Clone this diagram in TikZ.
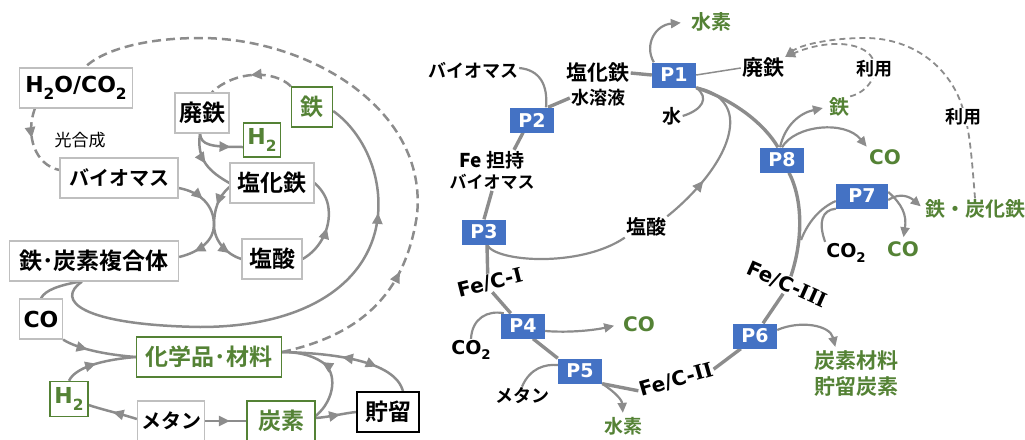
\documentclass[tikz,border=0pt]{standalone}
\usepackage{fontspec}
\usepackage{graphicx}
\setmainfont{DejaVu Sans}
\newfontfamily\jp{Noto Sans CJK JP}[UprightFont=* Bold]
\newfontfamily\jpr{Noto Sans CJK JP}
\newfontfamily\sr{DejaVu Serif}
\usetikzlibrary{arrows.meta,decorations.markings}
\definecolor{lg}{RGB}{140,140,140}
\definecolor{gr}{RGB}{84,130,53}
\definecolor{bl}{RGB}{68,114,196}
\definecolor{bx}{RGB}{191,191,191}
\newcommand{\sbs}[1]{\raisebox{-0.3em}{\scalebox{0.7}{#1}}}
\newcommand{\fs}[1]{\fontsize{#1}{#1}\selectfont}
\newcommand{\RI}{{\sr\bfseries I}}
\pgfdeclarelayer{bg}
\pgfsetlayers{bg,main}
\tikzset{
  lbox/.style={draw=bx,line width=1.3pt,fill=white,inner sep=0pt,font=\jp\fs{23}},
  gbox/.style={lbox,draw=gr,text=gr},
  lat/.style={font=\bfseries\fs{22}},
  pbox/.style={fill=bl,text=white,inner sep=0pt,minimum width=44pt,minimum height=25pt,font=\bfseries\fs{19}},
  tx/.style={inner sep=1pt,font=\jp\fs{19}},
  gtx/.style={tx,text=gr},
  ltx/.style={inner sep=1pt,font=\bfseries\fs{20}},
  gltx/.style={ltx,text=gr},
  ln/.style={draw=lg,line width=2.5pt},
  lnr/.style={draw=lg,line width=2.2pt},
  tk/.style={draw=lg,line width=3.4pt},
  dsh/.style={draw=lg,line width=2.5pt,dash pattern=on 9pt off 5pt},
  dshr/.style={draw=lg,line width=1.8pt,dash pattern=on 6pt off 4pt},
  tip/.style={-{Triangle[length=10pt,width=9pt]}},
  ma/.style={postaction={decorate,decoration={markings,mark=at position #1 with {\arrow{Triangle[length=11pt,width=10pt]}}}}},
  mr/.style={postaction={decorate,decoration={markings,mark=at position #1 with {\arrowreversed{Triangle[length=11pt,width=10pt]}}}}},
}
\begin{document}
\begin{tikzpicture}[x=1pt,y=-1pt]
\useasboundingbox (0,0) rectangle (1025,439);
% ---------------- left diagram nodes
\node[lbox,lat,minimum width=113pt,minimum height=40pt] (h2o) at (76,88) {H\sbs{2}O/CO\sbs{2}};
\node[inner sep=0pt,font=\jpr\fs{17}] (kou) at (80,140) {光合成};
\node[lbox,minimum width=118pt,minimum height=40pt,font=\jp\fs{20}] (bio) at (119,178) {バイオマス};
\node[lbox,minimum width=54pt,minimum height=40pt] (hai) at (202,113) {廃鉄};
\node[gbox,lat,minimum width=37pt,minimum height=34pt] (h2a) at (262,140) {H\sbs{2}};
\node[gbox,minimum width=41pt,minimum height=40pt] (tet) at (312,107) {鉄};
\node[lbox,minimum width=84pt,minimum height=40pt] (enk) at (272,183) {塩化鉄};
\node[lbox,minimum width=169pt,minimum height=40pt] (fec) at (94,261) {鉄･炭素複合体};
\node[lbox,minimum width=60pt,minimum height=40pt] (ens) at (272,259) {塩酸};
\node[lbox,lat,minimum width=43pt,minimum height=40pt] (col) at (41,319) {CO};
\node[gbox,minimum width=145pt,minimum height=40pt] (chem) at (209,357) {化学品･材料};
\node[gbox,lat,minimum width=38pt,minimum height=35pt] (h2b) at (69,399) {H\sbs{2}};
\node[lbox,minimum width=67pt,minimum height=40pt,font=\jp\fs{20}] (met) at (171,421) {メタン};
\node[gbox,minimum width=68pt,minimum height=40pt] (car) at (281,421) {炭素};
\node[lbox,draw=black,minimum width=62pt,minimum height=40pt] (sto) at (388,412) {貯留};
% ---------------- right diagram nodes
\node[pbox] (P1) at (674,75) {P1};
\node[pbox] (P2) at (532,120) {P2};
\node[pbox] (P3) at (484,232) {P3};
\node[pbox] (P4) at (523,326) {P4};
\node[pbox] (P5) at (580,371) {P5};
\node[pbox] (P6) at (755,336) {P6};
\node[pbox,minimum width=52pt] (P7) at (862,196) {P7};
\node[pbox] (P8) at (782,160) {P8};
\node[gtx,font=\jp\fs{20}] (sui1) at (711,22) {水素};
\node[tx,font=\jp\fs{18}] (bio2) at (473,70) {バイオマス};
\node[tx,font=\jp\fs{21}] (enk2) at (598,73) {塩化鉄};
\node[tx,font=\jp\fs{18}] (suiyo) at (598,98) {水溶液};
\node[tx] (mizu) at (672,116) {水};
\node[tx,font=\jp\fs{21}] (hai2) at (763,68) {廃鉄};
\node[tx,font=\jp\fs{18},fill=white] (riyo1) at (874,69) {利用};
\node[gtx,font=\jp\fs{20}] (tet2) at (839,107) {鉄};
\node[tx,font=\jp\fs{18},fill=white] (riyo2) at (963,117) {利用};
\node[gltx] (co1) at (885,157) {CO};
\node[gtx,font=\jp\fs{20}] (fetc) at (975,209) {鉄・炭化鉄};
\node[ltx,font=\bfseries\fs{19}] (co2a) at (846,253) {CO\sbs{2}};
\node[gltx] (co3) at (903,249) {CO};
\node[tx] (fetan) at (492,160) {{\bfseries Fe} 担持};
\node[tx,font=\jp\fs{17}] (bio3) at (492,182) {バイオマス};
\node[tx,font=\jp\fs{20}] (ens2) at (646,227) {塩酸};
\node[ltx,rotate=14] (fec1) at (490,283) {Fe/C-\RI};
\node[gltx] (co4) at (639,324) {CO};
\node[ltx,font=\bfseries\fs{19}] (co2b) at (471,350) {CO\sbs{2}};
\node[tx,font=\jp\fs{18}] (met2) at (522,396) {メタン};
\node[gtx] (sui2) at (623,426) {水素};
\node[ltx,rotate=16] (fec2) at (676,380) {Fe/C-\RI\RI};
\node[ltx,rotate=-24] (fec3) at (787,285) {Fe/C-\RI\RI\RI};
\node[gtx,font=\jp\fs{21}] (tan) at (856,361) {炭素材料};
\node[gtx,font=\jp\fs{21}] (cho) at (856,387) {貯留炭素};
\coordinate (br) at (801,240);
\begin{pgfonlayer}{bg}
% ---------------- left connectors
\path[dsh,ma=0.23] ([yshift=5pt]chem.east) .. controls (360,335) and (405,295) .. (417,215) .. controls (428,110) and (310,38) .. (200,38) .. controls (140,38) and (100,52) .. ([xshift=9pt]h2o.north);
\path[dsh,ma=0.4] ([xshift=16pt]h2o.south west) .. controls (25,135) and (35,165) .. ([yshift=8pt]bio.west);
\path[dsh,ma=0.5] (tet.north west) .. controls (275,70) and (235,70) .. ([xshift=10pt]hai.north);
\path[ln,ma=0.75] ([xshift=-2pt]hai.south) .. controls (201,145) and (210,147) .. ([yshift=-7pt]h2a.west);
\path[ln,ma=0.5] ([xshift=-2pt]hai.south) .. controls (196,160) and (210,172) .. (enk.west);
\path[ln,ma=0.25,ma=0.85] ([yshift=-10pt]bio.east) .. controls (200,192) and (214,205) .. (214,225) .. controls (214,240) and (200,252) .. ([yshift=4pt]fec.east);
\path[ln,ma=0.25,ma=0.85] ([yshift=-4pt]enk.west) .. controls (218,197) and (214,210) .. (214,225) .. controls (214,242) and (228,255) .. (ens.west);
\path[ln,ma=0.45] (ens.east) .. controls (322,248) and (332,225) .. (328,205) .. controls (326,195) and (320,188) .. (enk.east);
\path[ln,ma=0.77] ([xshift=-12pt]fec.south) .. controls (55,300) and (80,325) .. (200,327) .. controls (310,327) and (372,280) .. (378,215) .. controls (382,170) and (360,130) .. ([yshift=-4pt]tet.east);
\path[ln] ([xshift=-14pt]fec.south) .. controls (60,285) and (45,290) .. (col.north);
\path[ln,ma=0.35] (col.south east) .. controls (80,350) and (110,355) .. (chem.west);
\path[ln,ma=0.45] (h2b.north) .. controls (75,368) and (100,360) .. (chem.west);
\path[ln,ma=0.5] ([yshift=2pt]met.west) .. controls (118,413) and (100,409) .. ([yshift=-6pt]h2b.east);
\path[ln,ma=0.6] (met.east) -- (car.west);
\path[ln,ma=0.6] ([yshift=3pt]car.east) .. controls (330,417) and (345,413) .. (sto.west);
\path[ln,ma=0.6] ([yshift=5pt]car.east) .. controls (335,400) and (338,372) .. (322,362) .. controls (310,354) and (295,352) .. ([yshift=5pt]chem.east);
\path[ln,mr=0.45,ma=0.72] ([yshift=5pt]chem.east) .. controls (330,353) and (395,360) .. ([xshift=15pt]sto.north);
% ---------------- right connectors
\path[lnr,tip,shorten >=9pt] ([xshift=2pt]P1.north west) .. controls (644,45) and (655,25) .. (sui1.west);
\path[tk] (enk2.east) -- (P1.west);
\path[draw=lg,line width=1.5pt] (P1.east) -- (hai2.west);
\path[lnr] (mizu.east) .. controls (702,110) and (710,98) .. (P1.south east);
\path[tk] (P1.south east) .. controls (735,100) and (765,125) .. ([xshift=-4pt]P8.north);
\path[lnr,ma=0.3] (ens2.north east) .. controls (700,190) and (733,150) .. (730,118) .. controls (728,100) and (712,90) .. (P1.south east);
\path[lnr] ([xshift=3pt]P3.south) .. controls (495,262) and (580,268) .. (ens2.south west);
\path[lnr] ([yshift=2pt]bio2.east) .. controls (540,70) and (548,85) .. ([xshift=14pt]P2.north);
\path[tk] (suiyo.west) -- ([xshift=16pt]P2.north);
\path[tk] ([xshift=-9pt]P2.south) -- ([xshift=22pt]fetan.north);
\path[tk] (bio3.south) -- (P3.north);
\path[tk] ([xshift=3pt]P3.south) -- (fec1.north);
\path[tk] (fec1.south) -- ([xshift=10pt]P4.north west);
\path[lnr] (co2b.north) .. controls (472,318) and (488,310) .. ([xshift=3pt]P4.north west);
\path[lnr,tip,shorten >=8pt] ([yshift=-5pt]P4.east) .. controls (570,333) and (595,330) .. (co4.west);
\path[tk] ([xshift=10pt]P4.south) -- (P5.north west);
\path[lnr] (met2.north) .. controls (530,368) and (545,364) .. ([yshift=6pt]P5.west);
\path[lnr,tip,shorten >=3pt] (P5.south east) .. controls (615,392) and (622,400) .. (sui2.north);
\path[tk] (P5.south east) -- (fec2.west);
\path[tk] (fec2.east) -- ([xshift=8pt]P6.south west);
\path[tk] ([xshift=8pt]P6.north) -- (fec3.south);
\path[tk] (fec3.north) .. controls (803,240) and (803,200) .. ([xshift=7pt]P8.south);
\path[lnr] (br) .. controls (808,222) and (820,208) .. ([yshift=-5pt]P7.west);
\path[lnr] (co2a.north west) .. controls (818,222) and (822,210) .. (P7.south west);
\path[lnr,tip,shorten >=4pt] ([yshift=-4pt]P7.east) .. controls (900,192) and (910,197) .. (fetc.west);
\path[lnr,tip,shorten >=3pt] ([yshift=4pt]P7.east) .. controls (902,204) and (907,215) .. (co3.north);
\path[lnr,tip,shorten >=5pt] ([xshift=-2pt]P8.north) .. controls (785,125) and (800,113) .. (tet2.west);
\path[lnr,tip,shorten >=2pt] (P8.north) .. controls (795,125) and (845,120) .. (co1.north west);
\path[lnr,tip,shorten >=3pt] ([yshift=6pt]P6.east) .. controls (800,320) and (830,325) .. ([xshift=-20pt]tan.north);
\path[dshr,tip] (tet2.north east) .. controls (868,92) and (878,75) .. (874,62) .. controls (868,42) and (830,38) .. (hai2.north east);
\path[dshr,tip] (fetc.north) .. controls (972,160) and (970,135) .. (965,117) .. controls (955,70) and (915,38) .. (865,38) .. controls (830,38) and (800,45) .. (hai2.north east);
\end{pgfonlayer}
\end{tikzpicture}
\end{document}
